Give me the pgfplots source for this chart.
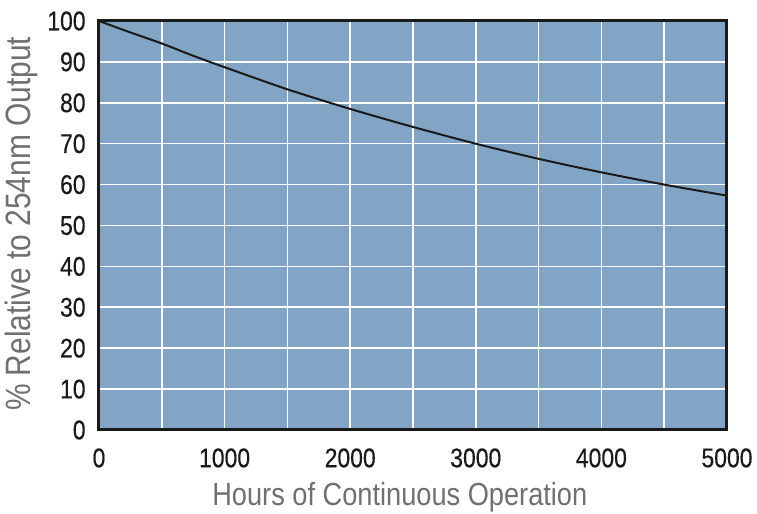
\documentclass[border=0pt]{standalone}
\usepackage{fontspec}
\setmainfont[FakeStretch=0.85]{Liberation Sans}
\newfontfamily\tickfont[FakeStretch=0.85,FakeBold=0.4]{Liberation Sans}
\usepackage{pgfplots}
\pgfplotsset{compat=1.18}
\definecolor{plotbg}{HTML}{82A5C5}
\definecolor{labgray}{HTML}{707070}
\definecolor{tickblack}{HTML}{1A1A1A}
\begin{document}
\begin{tikzpicture}
\path[use as bounding box] (0,0) rectangle (378.5pt,257pt);
\begin{axis}[
  at={(49.5pt,42pt)}, anchor=south west,
  scale only axis, width=314pt, height=204.5pt,
  xmin=0, xmax=5000, ymin=0, ymax=100,
  xtick={0,500,...,5000},
  xticklabels={0,,1000,,2000,,3000,,4000,,5000},
  ytick={0,10,...,100},
  major tick length=0pt,
  /pgf/number format/assume math mode=true,
  xticklabel style={anchor=north, inner sep=0pt, yshift=-9pt, font=\tickfont\fontsize{13.5}{14}\selectfont, text=tickblack},
  yticklabel style={anchor=east, inner sep=0pt, xshift=-6.5pt, font=\tickfont\fontsize{13.5}{14}\selectfont, text=tickblack},
  grid=major,
  major grid style={white, line width=0.8pt},
  axis background/.style={fill=plotbg},
  axis line style={line width=1.5pt, tickblack},
  xlabel={Hours of Continuous Operation},
  ylabel={\% Relative to 254nm Output},
  xlabel style={at={(axis description cs:0.479,-0.164)}, anchor=center, font=\fontsize{16}{18}\selectfont, text=labgray},
  ylabel style={at={(axis description cs:-0.124,0.504)}, anchor=center, rotate=0, font=\fontsize{17.6}{19}\selectfont, text=labgray},
]
\addplot[smooth, line width=1pt, tickblack] coordinates {
(0,100) (250,97.2) (500,94.5) (750,91.5) (1000,88.7) (1500,83.3) (2000,78.5) (2500,74.1) (3000,70) (3500,66.3) (4000,63) (4500,60) (5000,57.3)
};
\end{axis}
\end{tikzpicture}
\end{document}
